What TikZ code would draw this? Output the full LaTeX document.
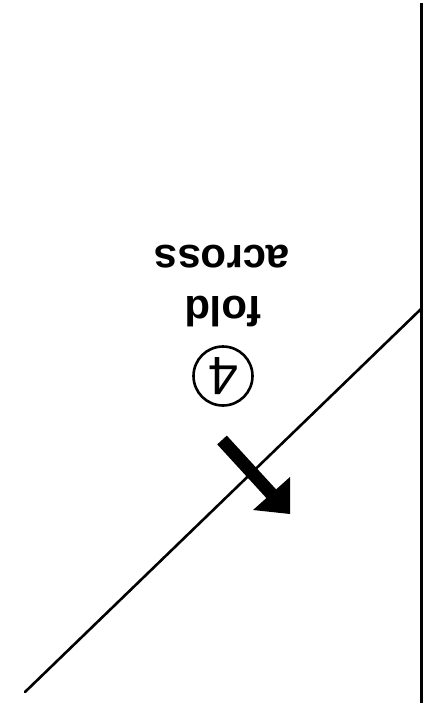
\documentclass[tikz,border=0pt]{standalone}
\usepackage{fontspec}
\setmainfont{Liberation Sans}
\begin{document}
\begin{tikzpicture}[x=1pt,y=-1pt,
  edge/.style={line width=2.6pt,black},
  lbl/.style={font=\fontsize{42}{42}\selectfont\bfseries,rotate=180,inner sep=0pt}]
\useasboundingbox (0,0) rectangle (430,708);
\coordinate (vtop) at (421,3);
\coordinate (vbot) at (421,703);
\coordinate (junc) at (421,309);
\coordinate (dend) at (25,692);
\draw[line width=3pt] (vtop) -- (vbot);
\draw[edge,line cap=round] (junc) -- (dend);
\node[lbl] (across) at (222,257) {across};
\node[lbl] (fold) at (223,312) {fold};
\node[draw,circle,line width=2.6pt,minimum size=59pt,inner sep=0pt] (step4) at (223,376) {};
\node[rotate=180,font=\fontsize{54}{54}\selectfont,inner sep=0pt] (four) at (step4.center) {4};
\coordinate (ashaft) at (222,440);
\coordinate (ahead) at (271.5,494);
\draw[line width=13pt] (ashaft) -- (ahead);
\fill (253,510) -- (290,477) -- (290,514) -- cycle;
\end{tikzpicture}
\end{document}
